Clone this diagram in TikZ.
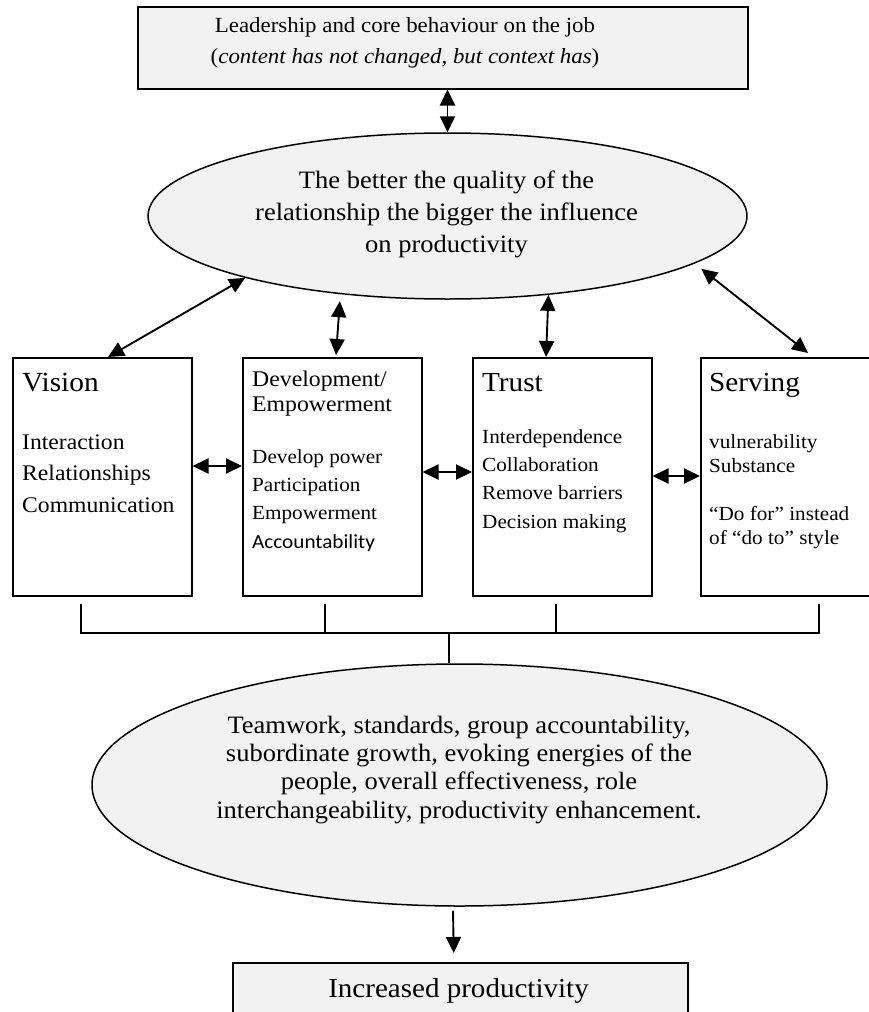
\documentclass[tikz,border=0pt]{standalone}
\usepackage{fontspec}
\setmainfont{Liberation Serif}[FakeStretch=1.06]
\newfontfamily\calib{Carlito}[FakeStretch=1.06]
\usetikzlibrary{arrows.meta,shapes.geometric}
\definecolor{panel}{HTML}{F2F2F2}
\newcommand\fs[2]{\fontsize{#1}{#2}\selectfont}

\begin{document}
\begin{tikzpicture}[x=1pt,y=-1pt,
  box/.style={draw=black, line width=1.5pt, inner sep=0pt, anchor=north west},
  shaded/.style={box, fill=panel},
  oval/.style={draw=black, line width=1.5pt, fill=panel, ellipse, inner sep=0pt},
  % multi-line texts are placed by the baseline of their last line
  txt/.style={inner sep=0pt, anchor=base west, align=left},
  ctxt/.style={inner sep=0pt, anchor=base, align=center},
  link/.style={line width=1.9pt, {Triangle[length=16pt 0,width=15pt 0]}-{Triangle[length=16pt 0,width=15pt 0]}},
  feed/.style={line width=1.9pt, -{Triangle[length=16pt 0,width=15pt 0]}},
  rail/.style={line width=1.4pt}]
\useasboundingbox (0,0) rectangle (869,1012);
\clip (0,0) rectangle (869,1012);
\fill[white] (0,0) rectangle (869,1012);

% header box
\node[shaded, minimum width=610pt, minimum height=82pt] (top) at (137,6) {};
\node[ctxt, font=\fs{21.6}{31}] (toptext) at (405,63)
  {Leadership and core behaviour on the job\\(\textit{content has not changed, but context has})};

% upper ellipse
\node[oval, minimum width=599pt, minimum height=166pt] (ell1) at (447.5,216) {};
\node[ctxt, font=\fs{25}{32}] (ell1text) at (446.5,252)
  {The better the quality of the\\relationship the bigger the influence\\on productivity};

% four pillars
\node[box, minimum width=179pt, minimum height=238pt] (vision) at (12,357) {};
\node[box, minimum width=179pt, minimum height=238pt] (dev) at (242,357) {};
\node[box, minimum width=179pt, minimum height=238pt] (trust) at (472,357) {};
\node[box, minimum width=180pt, minimum height=238pt] (serving) at (700,357) {};

\node[txt, font=\fs{27.7}{32}] (visiont) at (22,391) {Vision};
\node[txt, font=\fs{22.3}{31.5}] (visioni) at (22,512) {Interaction\\Relationships\\Communication};

\node[txt, font=\fs{22.4}{25}] (devt) at (252,411) {Development/\\Empowerment};
\node[txt, font=\fs{20}{28.3}] (devi) at (252,548)
  {Develop power\\Participation\\Empowerment\\{\calib Accountability}};

\node[txt, font=\fs{27.5}{32}] (trustt) at (482,391) {Trust};
\node[txt, font=\fs{20}{28.3}] (trusti) at (482,528)
  {Interdependence\\Collaboration\\Remove barriers\\Decision making};

\node[txt, font=\fs{27.5}{32}] (servt) at (709,391) {Serving};
\node[txt, font=\fs{20}{23.8}] (servi) at (709,544)
  {vulnerability\\Substance\\[23.8pt]“Do for” instead\\of “do to” style};

% lower ellipse
\node[oval, minimum width=735pt, minimum height=242pt] (ell2) at (459.5,785) {};
\node[ctxt, font=\fs{25}{28.3}] (ell2text) at (459,818)
  {Teamwork, standards, group accountability,\\subordinate growth, evoking energies of the\\people, overall effectiveness, role\\interchangeability, productivity enhancement.};

% result box
\node[shaded, minimum width=455pt, minimum height=80pt] (bot) at (232,962) {};
\node[ctxt, font=\fs{27.4}{30}] (bottext) at (458.5,997) {Increased productivity};

% two-way links
\draw[link] (ell1.north |- top.south) -- (ell1.north);
\draw[link] ([xshift=96pt]vision.north west) -- (ell1.197.5);
\draw[link] ([xshift=94pt,yshift=2pt]dev.north west) -- ([yshift=-7pt]ell1.216.5);
\draw[link] ([xshift=74pt]trust.north west) -- (ell1.322.2);
\draw[link] ([xshift=108pt,yshift=4pt]serving.north west) -- ([yshift=-8pt]ell1.350.6);

\draw[link] ([yshift=-109pt]vision.north east) -- ([yshift=-109pt]dev.north west);
\draw[link] ([yshift=-115pt]dev.north east) -- ([yshift=-115pt]trust.north west);
\draw[link] ([yshift=-119pt]trust.north east) -- ([yshift=-119pt]serving.north west);

% bracket gathering the pillars
\coordinate (t1) at ([xshift=69pt,yshift=-7pt]vision.south west);
\coordinate (t2) at ([xshift=83pt,yshift=-7pt]dev.south west);
\coordinate (t3) at ([xshift=84pt,yshift=-7pt]trust.south west);
\coordinate (t4) at ([xshift=119pt,yshift=-7pt]serving.south west);
\coordinate (hub) at (449,633);
\draw[rail] (t1) -- (t1 |- hub) -- (t4 |- hub) -- (t4);
\draw[rail] (t2) -- (t2 |- hub);
\draw[rail] (t3) -- (t3 |- hub);
\draw[rail] (hub) -- (hub |- ell2.north);

% outcome
\draw[feed] ([xshift=-6.5pt,yshift=-4pt]ell2.south) -- ([xshift=-6.5pt,yshift=9pt]bot.north);
\end{tikzpicture}
\end{document}
